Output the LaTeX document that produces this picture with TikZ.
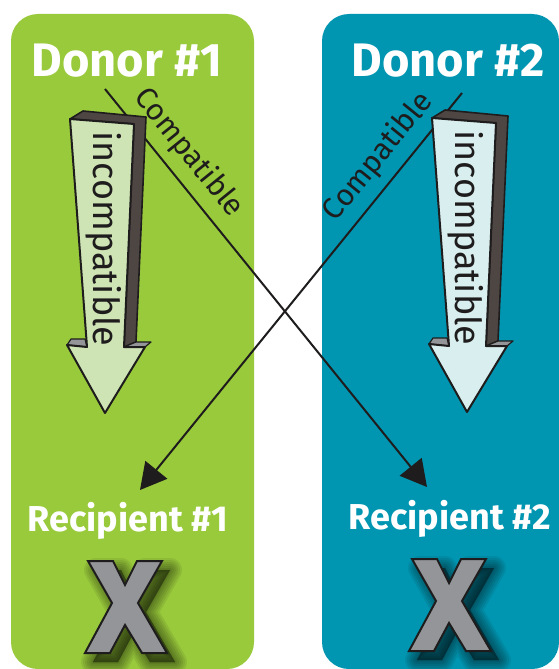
\documentclass[tikz,border=0pt]{standalone}
\usepackage{fontspec}
\setmainfont{Fira Sans}
\usetikzlibrary{arrows.meta}
\definecolor{pgreen}{RGB}{153,202,60}
\definecolor{pblue}{RGB}{0,150,177}
\definecolor{lgreen}{RGB}{206,228,181}
\definecolor{lblue}{RGB}{217,238,238}
\definecolor{darkside}{RGB}{77,70,67}
\definecolor{ledgegrey}{RGB}{147,149,152}
\definecolor{xgrey}{RGB}{147,149,152}
\definecolor{ink}{RGB}{30,28,28}
\tikzset{
  panel/.style={rounded corners=27pt, draw=none},
  title/.style={text=white, font=\bfseries\fontsize{47}{50}\selectfont, anchor=base, inner sep=0pt},
  rectitle/.style={text=white, font=\bfseries\fontsize{36}{40}\selectfont, anchor=base, inner sep=0pt},
  conn/.style={line width=2pt, draw=ink, -{Triangle[length=26pt,width=28pt]}},
  complabel/.style={font=\fontsize{30}{34}\selectfont, text=ink, sloped, above=9pt, pos=0.2, inner sep=0pt},
  inclabel/.style={font=\fontsize{36}{40}\selectfont, text=ink, rotate=-90, anchor=base, inner sep=0pt},
  sideface/.style={fill=darkside, draw=ink, line width=1.6pt, line join=round},
  ledgeface/.style={fill=ledgegrey, draw=ink, line width=1.2pt, line join=round},
  frontface/.style={draw=ink, line width=2pt, line join=round},
  xmark/.style={fill=xgrey, draw=ink, line width=2pt, line join=miter},
  incarrow/.pic={
    \path[sideface] (70,119) -- (83,111) -- (146,117) -- (136,342) -- (124,347) -- (134,124) -- cycle;
    \path[ledgeface] (67,345) -- (71,339) -- (85,339) -- (87,347) -- cycle;
    \path[ledgeface] (124,347) -- (136,342) -- (151,342) -- (145,347) -- cycle;
    \path[frontface, pic actions] (70,119) -- (134,124) -- (124,347) -- (145,347) -- (105,413) -- (67,345) -- (87,347) -- cycle;
    \node[inclabel] (-lbl) at (93,239) {incompatible};
  },
  xpic/.pic={
    \foreach \w in {24,20,16,12,8,4,1}{
      \filldraw[black, opacity=0.075, line width=\w pt, line join=round, shift={(8,9)}]
        (-37,-46) -- (-12,-46) -- (0,-22) -- (12,-46) -- (37,-46) -- (13,-4) -- (42,46) -- (17,46) -- (0,18) -- (-15,46) -- (-40,46) -- (-13,-4) -- cycle;
    }
    \path[xmark] (-37,-46) -- (-12,-46) -- (0,-22) -- (12,-46) -- (37,-46) -- (13,-4) -- (42,46) -- (17,46) -- (0,18) -- (-15,46) -- (-40,46) -- (-13,-4) -- cycle;
  }
}
\begin{document}
\begin{tikzpicture}[x=1pt, y=-1pt]
\useasboundingbox (0,0) rectangle (558,669);
\fill[white] (0,0) rectangle (558,669);
% panels
\fill[panel, pgreen] (11,14) rectangle (254,669);
\fill[panel, pblue] (322,14) rectangle (559,669);
% titles
\node[title] (donor1) at (127,76) {Donor \#1};
\node[title] (donor2) at (448,76) {Donor \#2};
\node[rectitle] (rec1) at (128,531) {Recipient \#1};
\node[rectitle] (rec2) at (450,529) {Recipient \#2};
% compatible connectors
\coordinate (c1s) at (105,89);
\coordinate (c1e) at (427,487);
\coordinate (c2s) at (462,93);
\coordinate (c2e) at (140,490);
\draw[conn] (c1s) -- (c1e) node[complabel] (comp1) {Compatible};
\draw[conn] (c2s) -- (c2e) node[complabel] (comp2) {Compatible};
% incompatible arrows
\pic[fill=lgreen] (inc1) at (0,0) {incarrow};
\pic[fill=lblue] (inc2) at (362,-1) {incarrow};
% X marks
\pic (x1) at (125,607) {xpic};
\pic (x2) at (449,605) {xpic};
\end{tikzpicture}
\end{document}
